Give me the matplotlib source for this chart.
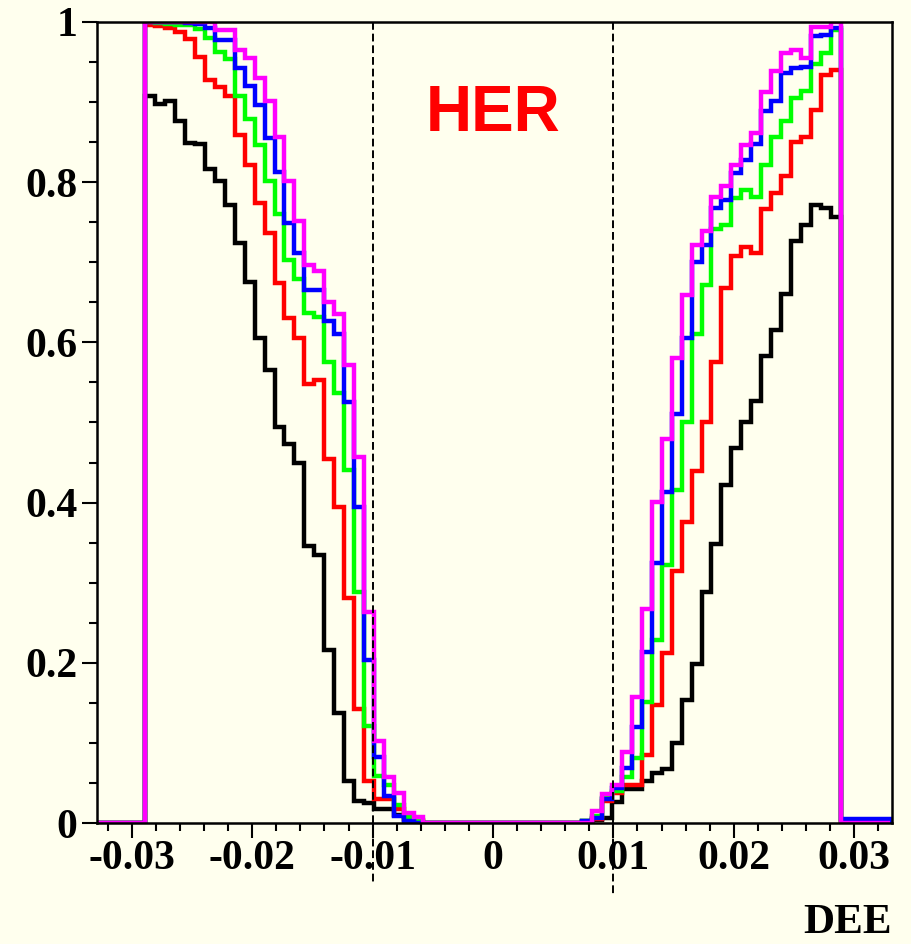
import numpy as np
import matplotlib
matplotlib.use("Agg")
import matplotlib.pyplot as plt

# 80 bins from -0.033 to 0.033
edges = np.linspace(-0.033, 0.033, 81)

black_left = [0.908, 0.898, 0.901, 0.876, 0.849, 0.848, 0.816, 0.801, 0.772, 0.724,
              0.676, 0.605, 0.566, 0.494, 0.473, 0.450, 0.346, 0.335, 0.216, 0.137,
              0.052, 0.027, 0.025, 0.017, 0.017, 0.010, 0.004, 0.0]
black_right = [0.002, 0.004, 0.006, 0.026, 0.043, 0.043, 0.052, 0.062, 0.067, 0.100,
               0.154, 0.199, 0.288, 0.348, 0.422, 0.468, 0.500, 0.527, 0.583, 0.615,
               0.660, 0.727, 0.747, 0.771, 0.768, 0.756]

red_left = [0.996, 0.995, 0.993, 0.987, 0.979, 0.956, 0.928, 0.919, 0.907, 0.859,
            0.822, 0.774, 0.737, 0.674, 0.631, 0.606, 0.548, 0.553, 0.455, 0.395,
            0.281, 0.142, 0.052, 0.030, 0.030, 0.017, 0.005, 0.002]
red_right = [0.001, 0.005, 0.027, 0.037, 0.048, 0.048, 0.085, 0.147, 0.212, 0.314,
             0.376, 0.440, 0.501, 0.575, 0.668, 0.708, 0.719, 0.712, 0.767, 0.786,
             0.808, 0.850, 0.857, 0.890, 0.934, 0.940]

green_left = [1.0, 0.999, 0.998, 0.996, 0.996, 0.991, 0.980, 0.962, 0.954, 0.907,
              0.879, 0.846, 0.801, 0.760, 0.703, 0.679, 0.637, 0.632, 0.575, 0.537,
              0.441, 0.289, 0.121, 0.059, 0.047, 0.022, 0.007, 0.004]
green_right = [0.002, 0.009, 0.031, 0.040, 0.058, 0.081, 0.151, 0.229, 0.322, 0.416,
               0.501, 0.611, 0.672, 0.742, 0.746, 0.780, 0.790, 0.781, 0.822, 0.856,
               0.876, 0.905, 0.914, 0.948, 0.961, 0.990]

blue_left = [1.0, 1.0, 1.0, 1.0, 0.999, 0.998, 0.993, 0.978, 0.978, 0.942,
             0.920, 0.897, 0.855, 0.813, 0.749, 0.711, 0.665, 0.665, 0.627, 0.611,
             0.526, 0.395, 0.203, 0.082, 0.034, 0.009, 0.003, 0.0]
blue_right = [0.002, 0.006, 0.030, 0.044, 0.069, 0.120, 0.214, 0.325, 0.413, 0.511,
              0.605, 0.700, 0.722, 0.768, 0.778, 0.811, 0.828, 0.848, 0.889, 0.901,
              0.936, 0.942, 0.944, 0.983, 0.984, 0.992]

magenta_left = [1.0, 1.0, 1.0, 1.0, 1.0, 1.0, 1.0, 0.990, 0.990, 0.965,
                0.955, 0.930, 0.901, 0.856, 0.801, 0.751, 0.697, 0.689, 0.650, 0.636,
                0.572, 0.457, 0.264, 0.102, 0.057, 0.038, 0.013, 0.007]
magenta_right = [0.0, 0.015, 0.036, 0.048, 0.089, 0.157, 0.267, 0.401, 0.480, 0.581,
                 0.659, 0.722, 0.739, 0.781, 0.795, 0.821, 0.846, 0.862, 0.912, 0.939,
                 0.961, 0.965, 0.955, 0.994, 0.994, 1.0]

blue_overflow = [0.005] * 5


def full(left, right, tail=None):
    # bins 0-4 empty, 5-32 left side, 33-48 empty, 49-74 right side, 75-79 tail
    tail = tail if tail is not None else [0.0] * 5
    return np.array([0.0] * 5 + left + [0.0] * 16 + right + tail)


series = [
    (full(black_left, black_right), "#000000"),
    (full(red_left, red_right), "#ff0000"),
    (full(green_left, green_right), "#00ff00"),
    (full(blue_left, blue_right, blue_overflow), "#0000ff"),
    (full(magenta_left, magenta_right), "#ff00ff"),
]

xticks = [-0.03, -0.02, -0.01, 0, 0.01, 0.02, 0.03]
xtick_labels = ["-0.03", "-0.02", "-0.01", "0", "0.01", "0.02", "0.03"]
yticks = [0, 0.2, 0.4, 0.6, 0.8, 1.0]
ytick_labels = ["0", "0.2", "0.4", "0.6", "0.8", "1"]

bg = "#ffffee"
fig = plt.figure(figsize=(9.11, 9.44), dpi=100, facecolor=bg)
ax = fig.add_axes([97 / 911, 1 - 823 / 944, (892 - 97) / 911, (823 - 22) / 944])
ax.set_facecolor(bg)

for vals, col in series:
    ax.stairs(vals, edges, color=col, linewidth=3.2, baseline=0)

# cut lines at +-0.01, running below the axis
ax.plot([-0.01, -0.01], [1.0, -0.074], color="black", lw=1.4, ls=(0, (4, 2)), clip_on=False)
ax.plot([0.01, 0.01], [1.0, -0.092], color="black", lw=1.4, ls=(0, (4, 2)), clip_on=False)

ax.set_xlim(-0.0329, 0.03315)
ax.set_ylim(0, 1)

ax.set_xticks(xticks)
ax.set_xticklabels(xtick_labels)
ax.set_xticks(np.arange(-0.032, 0.0331, 0.002), minor=True)
ax.set_yticks(yticks)
ax.set_yticklabels(ytick_labels)
ax.set_yticks(np.arange(0, 1.001, 0.05), minor=True)

for lab in ax.get_xticklabels() + ax.get_yticklabels():
    lab.set_fontfamily("Liberation Serif")
    lab.set_fontweight("bold")
    lab.set_fontsize(30)

ax.tick_params(which="major", direction="out", length=11, width=1.5, pad=1)
ax.tick_params(which="minor", direction="out", length=6, width=1.5)
ax.tick_params(axis="y", which="major", pad=3)
for sp in ax.spines.values():
    sp.set_linewidth(1.8)

ax.text(0.0, 0.885, "HER", color="#ff0000", fontsize=46, fontweight="bold",
        family="Liberation Sans", ha="center", va="center")

fig.text(892 / 911, 1 - 933 / 944, "DEE", ha="right", va="baseline",
         family="Liberation Serif", weight="bold", size=31)

fig.savefig("out.png", dpi=100, facecolor=bg)
